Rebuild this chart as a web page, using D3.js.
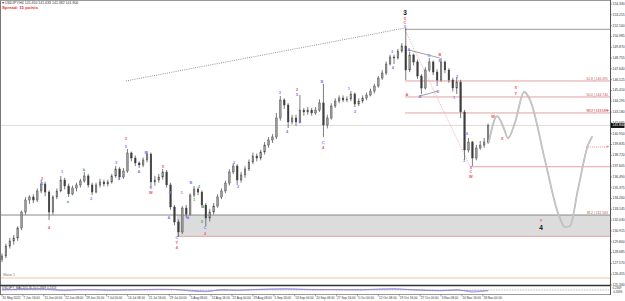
<!DOCTYPE html>
<html><head><meta charset="utf-8">
<script src="https://cdn.jsdelivr.net/npm/d3@7"></script>
<style>
html,body{margin:0;padding:0;background:#fff;overflow:hidden;}
svg{display:block;}
text{font-family:"Liberation Sans",Arial,sans-serif;}
</style></head><body>
<svg id="c" width="625" height="301"></svg>
<script>
// ---------- DATA ----------
const firstOpen = 128.0;
const closes = [
128.33,129.36,129.88,130.19,131.22,132.87,134.11,134.42,134.11,135.04,
135.76,134.93,132.87,134.42,135.04,136.17,135.55,134.73,135.35,135.66,
136.07,136.59,135.66,134.93,135.66,135.97,135.76,135.97,136.59,137.31,
136.48,137.10,138.96,138.44,137.93,137.72,138.24,138.85,135.97,136.17,
136.48,137.00,135.66,133.39,131.84,130.81,133.28,132.66,134.62,135.24,
134.93,133.59,132.25,132.87,133.49,134.42,135.04,135.86,137.00,137.62,
136.17,136.69,137.31,138.03,138.65,138.44,139.06,139.78,140.30,140.61,
142.57,144.43,143.91,142.16,142.57,142.16,143.39,143.19,143.39,143.09,
143.39,144.12,141.85,142.57,143.81,144.32,144.63,144.43,144.53,145.05,
144.01,144.32,144.63,144.94,145.35,145.87,146.69,147.21,148.14,148.86,
148.76,149.48,150.00,147.52,149.07,148.35,146.90,145.66,147.52,148.35,
147.31,146.49,148.35,147.52,146.49,145.66,146.28,143.19,139.27,140.09,
138.44,139.47,139.78,140.09,141.80];
const highs = [
128.6,129.6,130.2,130.5,131.4,133.0,134.4,134.6,134.7,135.3,
136.2,136.0,135.1,134.6,135.3,136.59,136.4,135.8,135.6,135.9,
136.3,137.0,136.8,135.9,135.9,136.3,136.2,136.2,136.8,137.62,
137.5,137.4,139.37,139.1,138.7,138.1,138.5,139.16,139.0,136.6,
136.8,137.31,137.2,135.9,133.6,132.1,133.5,133.6,134.8,135.55,
135.4,135.1,133.8,133.2,133.8,134.7,135.3,136.1,137.3,137.93,
137.8,137.0,137.6,138.3,139.0,138.9,139.3,140.1,140.6,140.9,
143.09,144.84,144.6,144.1,142.9,142.9,144.94,143.6,143.7,143.6,
143.7,144.5,146.08,142.9,144.1,144.6,144.9,144.9,144.8,145.35,
145.2,144.6,144.9,145.2,145.6,146.1,146.9,147.5,148.4,149.1,
149.1,149.7,150.3,151.85,149.4,149.2,148.6,147.1,147.8,148.76,
148.5,147.6,148.76,148.5,147.7,146.7,146.80,146.5,143.4,140.5,
140.2,139.8,140.2,140.5,142.0];
const lows = [
127.7,128.1,129.1,129.5,129.9,131.0,132.6,133.7,133.8,133.9,
134.8,134.5,132.05,132.6,134.2,134.9,135.2,134.42,134.6,135.0,
135.4,135.9,135.4,134.62,134.8,135.4,135.5,135.5,135.8,136.4,
136.2,136.3,136.9,138.1,137.6,137.41,137.5,138.0,135.35,135.6,
135.9,136.2,135.4,133.1,131.5,130.3,130.6,132.25,132.5,134.4,
134.6,133.3,131.43,131.9,132.6,133.3,134.2,134.8,135.6,136.8,
135.66,135.9,136.4,137.1,137.8,138.1,138.2,138.8,139.5,140.0,
140.4,142.3,143.5,141.54,141.9,141.74,142.0,142.8,142.9,142.8,
142.9,143.2,140.61,141.5,142.4,143.6,144.1,144.2,144.2,144.3,
143.70,143.8,144.1,144.4,144.8,145.1,145.7,146.5,147.0,148.0,
148.14,148.6,149.3,146.49,147.3,148.0,146.6,145.04,145.5,147.3,
147.0,145.87,146.3,147.2,146.2,145.3,145.04,142.57,138.24,139.0,
137.62,138.2,139.3,139.5,139.9];

const priceTicks = [154.330,153.215,152.100,150.985,149.870,148.755,147.640,146.525,145.410,144.295,
143.180,142.065,140.950,139.835,138.720,137.605,136.490,135.375,134.260,133.145,132.030,130.915,
129.800,128.685,127.570,126.455,125.340];
const timeLabels = ["31 May 2022","7 Jun 16:00","15 Jun 00:00","22 Jun 08:00","29 Jun 16:00","7 Jul 00:00",
"14 Jul 08:00","21 Jul 16:00","29 Jul 00:00","5 Aug 08:00","12 Aug 16:00","22 Aug 00:00","29 Aug 08:00",
"5 Sep 16:00","13 Sep 00:00","20 Sep 08:00","27 Sep 16:00","5 Oct 00:00","12 Oct 08:00","19 Oct 16:00",
"27 Oct 00:00","3 Nov 08:00","10 Nov 16:00","18 Nov 00:00"];
const daysPerTimeLabel = 32/6;

// wave labels: [text, day, price, colour group]
const waveLabels = [
["3",10.2,136.28,"r"],["5",10.2,135.76,"b"],["4",12.0,131.22,"r"],["1",15.3,137.0,"b"],
["a",16.8,133.90,"g"],["b",20.9,137.20,"g"],["2",22.7,134.21,"b"],["3",29.1,137.93,"b"],
["4",29.8,136.28,"b"],["3",31.6,140.40,"r"],["5",31.6,139.58,"b"],["A",34.9,137.0,"b"],
["B",36.7,138.96,"b"],["C",38.0,135.35,"b"],["W",38.0,134.83,"r"],["X",41.1,137.51,"r"],
["A",42.6,132.25,"b"],["B",42.9,134.83,"b"],["C",44.6,130.19,"b"],["Y",44.6,129.67,"r"],
["4",44.6,129.16,"r"],["1",45.9,134.83,"r"],["A",47.4,132.25,"b"],["B",48.2,135.86,"b"],
["1",49.0,134.11,"g"],["2",50.3,135.45,"g"],["4",51.3,133.39,"g"],["3",51.0,131.84,"g"],
["C",51.8,131.22,"b"],["2",51.8,130.60,"r"],["1",59.2,137.93,"b"],["2",60.2,135.45,"b"],
["3",70.9,145.15,"b"],["4",72.7,141.12,"b"],["2",75.3,145.46,"r"],["5",75.3,144.94,"b"],
["A",76.0,142.16,"b"],["B",81.6,146.28,"b"],["C",81.9,139.99,"b"],["4",81.9,139.47,"r"],
["1",88.5,145.56,"b"],["2",90.1,143.19,"b"],["3",99.5,149.38,"b"],["4",99.7,147.73,"b"],
["5",102.8,152.78,"r"],["C",102.8,152.37,"r"],["5",102.8,151.96,"b"],
["A",103.3,144.94,"r"],["A",103.8,149.58,"b"],["B",106.6,144.74,"b"],["C",108.9,148.97,"b"],
["D",111.2,145.25,"b"],["B",111.7,149.07,"r"],["E",111.7,148.45,"b"],["1",115.3,144.63,"b"],
["2",116.1,146.80,"b"],["3",117.9,138.13,"b"],["4",118.6,140.92,"b"],["5",119.6,137.41,"b"],
["C",119.6,137.0,"r"],["W",119.6,136.48,"r"],["W",125.3,142.67,"r"],["X",127.6,140.40,"r"],
["X",131.1,145.66,"r"],["Y",131.1,145.04,"r"],["Y",137.5,131.94,"r"]];
const bigLabels = [["3",102.8,153.40],["4",137.5,131.22]];

// projected path [day, price]
const projDays   = [124.2,126.3,127.8,129.1,130.9,133.2,134.7,138.5,141.6,143.6,144.9,146.9,149.5,150.5];
const projPrices = [140.09,142.77,141.74,140.50,142.16,145.25,144.43,138.24,133.08,131.32,131.43,135.14,139.78,140.61];

const fibLevels = [146.39,144.74,143.09];
const fibTexts = ["61.8 | 146.391","50.0 | 144.740","38.2 | 143.089"];
const fibStartDay = 102.8;
const topLevel = 151.72, lowLevel = 137.54, lowLevelDay = 119.6;
const boxTop = 132.56, boxBottom = 130.36, boxStartDay = 44.6, boxText = "38.2 | 132.563";
const waveLine = 126.06, waveLineText = "Wave 1";
const bidPrice = 141.80, bidText = "141.800";
const pendingLevels = [143.39,139.58], pendingStartDay = 149.0;
const trendDotted = [[31.6,146.39],[102.8,151.85]];
const trendRed = [[102.8,151.65],[119.6,137.41]];
const triUpper = [[103.8,149.58],[111.7,148.76]];
const triLower = [[106.6,144.84],[111.2,145.35]];
const indDays = d3.range(0,125,4);
const indMain = [0.05,0.15,0.2,0.1,-0.1,0.12,0.05,-0.05,0.05,0.08,0.15,0.1,-0.2,-0.35,0.1,-0.05,0.1,0.2,0.25,0.15,0.05,0.1,0.05,0.05,0.2,0.25,0.05,-0.1,-0.15,0.05,-0.4,-0.1];
const indSignal = [0.05,0.1,0.15,0.12,0.02,0.05,0.06,0.0,0.02,0.05,0.1,0.1,-0.05,-0.2,-0.05,-0.02,0.05,0.12,0.18,0.15,0.1,0.08,0.06,0.05,0.12,0.18,0.1,0.0,-0.1,-0.02,-0.2,-0.15];
const indTicks = [["0.2369",0.45],["-0.3094",-0.45]];
const titleText = "\u25BE USDJPY,H4  141.450 141.633 141.382 141.800";
const spreadText = "Spread: 15 points";
const indTitle = "USDJPY_MACD(5,35,5) 0.2369 0.2413";

// ---------- DRAW ----------
const svg = d3.select("#c");
const axisX = 610, mainBottom = 285;
const x = d3.scaleLinear().domain([0,155]).range([2,609.6]);
const y = d3.scaleLinear().domain([125.34,154.33]).range([285,4]);
const yi = d3.scaleLinear().domain([-0.6,0.6]).range([293,287]);
const colors = {r:"#f05050", b:"#7878ff", g:"#44a044"};

svg.append("defs").append("clipPath").attr("id","pc").append("rect")
  .attr("x",0).attr("y",0).attr("width",axisX).attr("height",mainBottom);
const g = svg.append("g").attr("clip-path","url(#pc)");

// box
g.append("rect").attr("x",x(boxStartDay)).attr("y",y(boxTop)).attr("width",axisX-x(boxStartDay))
  .attr("height",y(boxBottom)-y(boxTop)).attr("fill","#dcdcdc");
g.append("line").attr("x1",0).attr("x2",axisX).attr("y1",y(boxTop)).attr("y2",y(boxTop)).attr("stroke","#8a8a8a").attr("stroke-width",1);
g.append("line").attr("x1",x(boxStartDay)).attr("x2",axisX).attr("y1",y(boxBottom)).attr("y2",y(boxBottom)).attr("stroke","#e8a0a0").attr("stroke-width",1);
g.append("text").attr("x",axisX-2).attr("y",y(boxTop)-1).attr("text-anchor","end").attr("font-size",3.4).attr("fill","#c05858").text(boxText);

// bid line
g.append("line").attr("x1",0).attr("x2",axisX).attr("y1",y(bidPrice)).attr("y2",y(bidPrice)).attr("stroke","#d4d4d4").attr("stroke-width",0.8);
// wave line
g.append("line").attr("x1",0).attr("x2",axisX).attr("y1",y(waveLine)).attr("y2",y(waveLine)).attr("stroke","#f0c8a8").attr("stroke-width",1);
g.append("text").attr("x",3).attr("y",y(waveLine)-2).attr("font-size",3.6).attr("fill","#777").text(waveLineText);

// top and low level
g.append("line").attr("x1",x(fibStartDay)).attr("x2",axisX).attr("y1",y(topLevel)).attr("y2",y(topLevel)).attr("stroke","#9a9a9a").attr("stroke-width",1);
g.append("line").attr("x1",x(lowLevelDay)).attr("x2",axisX).attr("y1",y(lowLevel)).attr("y2",y(lowLevel)).attr("stroke","#e8a0a0").attr("stroke-width",1);
// fib
fibLevels.forEach((p,i)=>{
  g.append("line").attr("x1",x(fibStartDay)).attr("x2",axisX).attr("y1",y(p)).attr("y2",y(p)).attr("stroke","#e4a0a0").attr("stroke-width",1);
  g.append("text").attr("x",axisX-2).attr("y",y(p)-1).attr("text-anchor","end").attr("font-size",3.4).attr("fill","#c05858").text(fibTexts[i]);
});
// pending order marks
pendingLevels.forEach(p=>{
  g.append("line").attr("x1",x(pendingStartDay)).attr("x2",axisX-2).attr("y1",y(p)).attr("y2",y(p)).attr("stroke","#f06060").attr("stroke-width",0.7).attr("stroke-dasharray","1,1");
  g.append("text").attr("x",axisX-3.5).attr("y",y(p)+1.5).attr("font-size",4.5).attr("fill","#f04040").text("+");
});

// trend lines
const ln = d3.line().x(d=>x(d[0])).y(d=>y(d[1]));
g.append("path").attr("d",ln(trendDotted)).attr("fill","none").attr("stroke","#666").attr("stroke-width",0.7).attr("stroke-dasharray","1,1.2");
g.append("path").attr("d",ln(trendRed)).attr("fill","none").attr("stroke","#eda0a0").attr("stroke-width",0.8).attr("stroke-dasharray","1,1");
[triUpper,triLower].forEach(t=>g.append("path").attr("d",ln(t)).attr("fill","none").attr("stroke","#777").attr("stroke-width",0.7));

// candles
const bars = closes.map((c,i)=>({i,o:i?closes[i-1]:firstOpen,c,h:highs[i],l:lows[i]}));
const bw = (x(1)-x(0))*0.42;
g.selectAll("line.wick").data(bars).join("line").attr("class","wick")
  .attr("x1",d=>x(d.i)).attr("x2",d=>x(d.i)).attr("y1",d=>y(d.h)).attr("y2",d=>y(d.l))
  .attr("stroke","#444").attr("stroke-width",0.7);
g.selectAll("rect.body").data(bars).join("rect").attr("class","body")
  .attr("x",d=>x(d.i)-bw/2).attr("width",bw)
  .attr("y",d=>y(Math.max(d.o,d.c))).attr("height",d=>Math.max(0.6,Math.abs(y(d.o)-y(d.c))))
  .attr("fill",d=>d.c>=d.o?"#9a9a9a":"#3c3c3c").attr("stroke","#444").attr("stroke-width",0.4);

// projection
const proj = projDays.map((d,i)=>[d,projPrices[i]]);
const pl = d3.line().x(d=>x(d[0])).y(d=>y(d[1])).curve(d3.curveMonotoneX);
g.append("path").attr("d",pl(proj)).attr("fill","none").attr("stroke","#b4b4b4").attr("stroke-width",1.8).attr("stroke-linecap","round");
g.append("path").attr("d",pl(proj)).attr("fill","none").attr("stroke","#d8d8d8").attr("stroke-width",0.6);

// wave labels
g.selectAll("text.wl").data(waveLabels).join("text").attr("class","wl")
  .attr("x",d=>x(d[1])).attr("y",d=>y(d[2])).attr("text-anchor","middle").attr("dominant-baseline","middle")
  .attr("font-size",3.9).attr("font-weight","bold").attr("fill",d=>colors[d[3]]).text(d=>d[0]);
g.selectAll("text.bl").data(bigLabels).join("text").attr("class","bl")
  .attr("x",d=>x(d[1])).attr("y",d=>y(d[2])).attr("text-anchor","middle").attr("dominant-baseline","middle")
  .attr("font-size",6.5).attr("font-weight","bold").attr("fill","#111").text(d=>d[0]);

// frame
svg.append("line").attr("x1",0.5).attr("x2",0.5).attr("y1",0).attr("y2",295).attr("stroke","#777");
svg.append("line").attr("x1",0).attr("x2",axisX).attr("y1",0.5).attr("y2",0.5).attr("stroke","#999");
svg.append("line").attr("x1",axisX+0.5).attr("x2",axisX+0.5).attr("y1",0).attr("y2",295).attr("stroke","#555");
svg.append("line").attr("x1",0).attr("x2",axisX).attr("y1",mainBottom+0.5).attr("y2",mainBottom+0.5).attr("stroke","#333").attr("stroke-width",1.4);
svg.append("line").attr("x1",0).attr("x2",axisX).attr("y1",294.5).attr("y2",294.5).attr("stroke","#555").attr("stroke-width",0.6);

// price axis
const ya = svg.append("g");
priceTicks.forEach(p=>{
  ya.append("line").attr("x1",axisX).attr("x2",axisX+2).attr("y1",y(p)).attr("y2",y(p)).attr("stroke","#555").attr("stroke-width",0.6);
  ya.append("text").attr("x",axisX+2.5).attr("y",y(p)).attr("dominant-baseline","middle").attr("font-size",3.4).attr("fill","#333").text(p.toFixed(3));
});
ya.append("rect").attr("x",axisX+1).attr("y",y(bidPrice)-2.5).attr("width",13.5).attr("height",5).attr("fill","#111");
ya.append("text").attr("x",axisX+2.5).attr("y",y(bidPrice)).attr("dominant-baseline","middle").attr("font-size",3.4).attr("fill","#fff").text(bidText);

// time axis
timeLabels.forEach((t,i)=>{
  const xx = x(i*daysPerTimeLabel);
  svg.append("line").attr("x1",xx).attr("x2",xx).attr("y1",294.5).attr("y2",296.5).attr("stroke","#555").attr("stroke-width",0.5);
  svg.append("text").attr("x",xx+0.6).attr("y",298.5).attr("dominant-baseline","middle").attr("font-size",3.1).attr("fill","#333").text(t);
});

// indicator
svg.append("line").attr("x1",0).attr("x2",axisX).attr("y1",yi(0)).attr("y2",yi(0)).attr("stroke","#666").attr("stroke-width",0.5).attr("stroke-dasharray","0.8,0.8");
const il = d3.line().x((d,i)=>x(indDays[i])).y(d=>yi(d)).curve(d3.curveMonotoneX);
svg.append("path").attr("d",il(indSignal)).attr("fill","none").attr("stroke","#5a7adc").attr("stroke-width",0.6);
svg.append("path").attr("d",il(indMain)).attr("fill","none").attr("stroke","#a070d0").attr("stroke-width",0.7);
svg.append("text").attr("x",2).attr("y",288.3).attr("dominant-baseline","middle").attr("font-size",3.1).attr("fill","#333").text(indTitle);
indTicks.forEach(t=>svg.append("text").attr("x",axisX+2.5).attr("y",yi(t[1])).attr("dominant-baseline","middle").attr("font-size",2.9).attr("fill","#333").text(t[0]));

// title
svg.append("text").attr("x",2).attr("y",3.3).attr("dominant-baseline","middle").attr("font-size",3.5).attr("fill","#333").text(titleText);
svg.append("text").attr("x",2).attr("y",8).attr("dominant-baseline","middle").attr("font-size",4.3).attr("font-weight","bold").attr("fill","#f03030").text(spreadText);
</script>
</body></html>
